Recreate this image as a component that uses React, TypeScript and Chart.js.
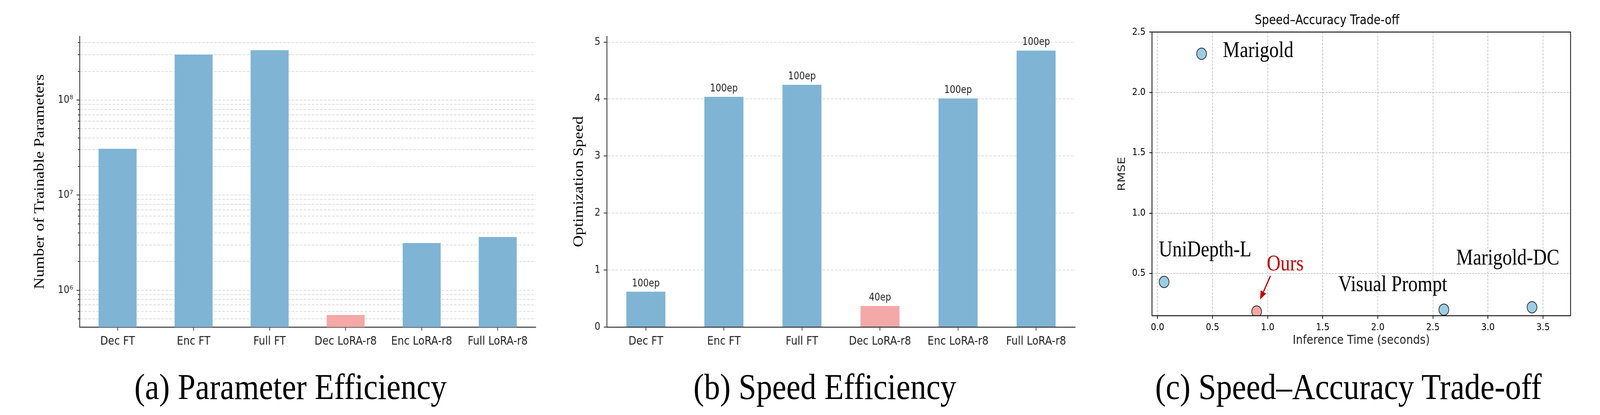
import React, { useEffect, useRef } from 'react';
import { Chart, registerables } from 'chart.js';

Chart.register(...registerables);

// ---------------- data ----------------
const methods = ['Dec FT', 'Enc FT', 'Full FT', 'Dec LoRA-r8', 'Enc LoRA-r8', 'Full LoRA-r8'];
const trainableParams = [3.07e7, 3.0e8, 3.34e8, 5.5e5, 3.13e6, 3.63e6];
const optimizationSpeed = [0.62, 4.04, 4.25, 0.37, 4.01, 4.85];
const epochLabels = ['100ep', '100ep', '100ep', '40ep', '100ep', '100ep'];
const highlightedMethod = 'Dec LoRA-r8';

const paramTicks = [
  5e5, 6e5, 7e5, 8e5, 9e5,
  1e6, 2e6, 3e6, 4e6, 5e6, 6e6, 7e6, 8e6, 9e6,
  1e7, 2e7, 3e7, 4e7, 5e7, 6e7, 7e7, 8e7, 9e7,
  1e8, 2e8, 3e8, 4e8,
];
const speedTicks = [0, 1, 2, 3, 4, 5];

const scatterMethods = ['Marigold', 'UniDepth-L', 'Ours', 'Visual Prompt', 'Marigold-DC'];
const inferenceTime = [0.4, 0.06, 0.9, 2.6, 3.4];
const rmseValues = [2.32, 0.43, 0.185, 0.2, 0.22];
const timeTicks = [0, 0.5, 1.0, 1.5, 2.0, 2.5, 3.0, 3.5];
const rmseTicks = [0.5, 1.0, 1.5, 2.0, 2.5];
const oursName = 'Ours';

const captions = ['(a) Parameter Efficiency', '(b) Speed Efficiency', '(c) Speed\u2013Accuracy Trade-off'];

// ---------------- styles ----------------
const PAGE_W = 4725;
const PAGE_H = 1062;
const BAR_BLUE = '#7fb4d4';
const BAR_PINK = '#f4a8a7';
const PT_BLUE = '#9dcde6';
const PT_PINK = '#f4a6a6';
const RED = '#c00000';
const SANS = "'DejaVu Sans', sans-serif";
const SERIF = "'Liberation Serif', 'Times New Roman', serif";
const SUP = '\u2070\u00b9\u00b2\u00b3\u2074\u2075\u2076\u2077\u2078\u2079';

const isPow10 = (v: number) => {
  const e = Math.log10(v);
  return Math.abs(e - Math.round(e)) < 1e-9;
};
const powLabel = (v: number) => {
  const e = Math.round(Math.log10(v));
  return '10' + String(e).split('').map((d) => SUP[Number(d)]).join('');
};

const barLabelPlugin = {
  id: 'barLabels',
  afterDatasetsDraw(chart: any, _args: any, opts: any) {
    const meta = chart.getDatasetMeta(0);
    const ctx = chart.ctx;
    ctx.save();
    ctx.font = `26px ${SANS}`;
    ctx.fillStyle = '#222';
    ctx.textAlign = 'center';
    ctx.textBaseline = 'alphabetic';
    meta.data.forEach((bar: any, i: number) => {
      ctx.fillText(opts.labels[i], bar.x, bar.y - 14);
    });
    ctx.restore();
  },
};

const boxPlugin = {
  id: 'boxSpines',
  afterDatasetsDraw(chart: any) {
    const { ctx, chartArea } = chart;
    ctx.save();
    ctx.strokeStyle = '#000';
    ctx.lineWidth = 2.2;
    ctx.strokeRect(chartArea.left, chartArea.top, chartArea.right - chartArea.left, chartArea.bottom - chartArea.top);
    ctx.restore();
  },
};

const scatterLabelPlugin = {
  id: 'scatterLabels',
  afterDatasetsDraw(chart: any, _args: any, opts: any) {
    const meta = chart.getDatasetMeta(0);
    const ctx = chart.ctx;
    ctx.save();
    ctx.font = `56px ${SERIF}`;
    ctx.textAlign = 'left';
    ctx.textBaseline = 'alphabetic';
    meta.data.forEach((pt: any, i: number) => {
      const name = scatterMethods[i];
      const off = opts.offsets[name];
      ctx.fillStyle = name === oursName ? RED : '#000';
      ctx.fillText(name, pt.x + off[0], pt.y + off[1]);
    });
    const idx = scatterMethods.indexOf(oursName);
    const p = meta.data[idx];
    const a = opts.arrow;
    const x1 = p.x + a.from[0], y1 = p.y + a.from[1];
    const x2 = p.x + a.to[0], y2 = p.y + a.to[1];
    const ang = Math.atan2(y2 - y1, x2 - x1);
    const hl = 22, hw = 9;
    const bx = x2 - hl * Math.cos(ang), by = y2 - hl * Math.sin(ang);
    ctx.strokeStyle = RED;
    ctx.fillStyle = RED;
    ctx.lineWidth = 3.5;
    ctx.beginPath();
    ctx.moveTo(x1, y1);
    ctx.lineTo(bx, by);
    ctx.stroke();
    ctx.beginPath();
    ctx.moveTo(x2, y2);
    ctx.lineTo(bx + hw * Math.sin(ang), by - hw * Math.cos(ang));
    ctx.lineTo(bx - hw * Math.sin(ang), by + hw * Math.cos(ang));
    ctx.closePath();
    ctx.fill();
    ctx.restore();
  },
};

const barXAxis = (height: number) => ({
  type: 'category',
  offset: true,
  afterFit: (s: any) => { s.height = height; },
  grid: {
    display: true,
    offset: false,
    drawOnChartArea: false,
    drawTicks: true,
    tickLength: 9,
    tickWidth: 2,
    tickColor: '#333',
  },
  border: { display: true, color: '#333', width: 2.5 },
  ticks: { font: { family: SANS, size: 30 }, color: '#222', padding: 10, maxRotation: 0, autoSkip: false },
});

export default function App() {
  const refA = useRef<HTMLCanvasElement>(null);
  const refB = useRef<HTMLCanvasElement>(null);
  const refC = useRef<HTMLCanvasElement>(null);

  // The viewport may be narrower than the requested window; fit the figure to it.
  const vw = typeof window !== 'undefined' && window.innerWidth ? window.innerWidth : PAGE_W;
  const vh = typeof window !== 'undefined' && window.innerHeight ? window.innerHeight : PAGE_H;
  const sx = Math.min(1, vw / PAGE_W);
  const sy = Math.min(1, vh / PAGE_H);

  useEffect(() => {
    const barColors = methods.map((m) => (m === highlightedMethod ? BAR_PINK : BAR_BLUE));

    const chartA = new Chart(refA.current as HTMLCanvasElement, {
      type: 'bar',
      data: {
        labels: methods,
        datasets: [{ data: trainableParams, backgroundColor: barColors, borderWidth: 0, barPercentage: 0.5, categoryPercentage: 1.0 }],
      },
      options: {
        responsive: false,
        animation: false,
        layout: { padding: { left: 0, top: 93, right: 18, bottom: 0 } },
        plugins: { legend: { display: false }, tooltip: { enabled: false } },
        scales: {
          x: barXAxis(63) as any,
          y: {
            type: 'logarithmic',
            min: 4.1e5,
            max: 4.67e8,
            afterFit: (s: any) => { s.width = 235; },
            afterBuildTicks: (s: any) => { s.ticks = paramTicks.map((v) => ({ value: v, major: isPow10(v) })); },
            grid: {
              color: '#dcdcdc',
              lineWidth: 2,
              tickLength: 9,
              tickWidth: 2.2,
              tickColor: '#333',
              tickBorderDash: (c: any) => (c.tick && isPow10(c.tick.value) ? [] : [0, 4, 5]),
            },
            border: { display: true, color: '#333', width: 2.5, dash: [8, 4] },
            ticks: {
              autoSkip: false,
              font: { family: SANS, size: 27 },
              color: '#222',
              padding: 10,
              callback: (v: any) => (isPow10(Number(v)) ? powLabel(Number(v)) : ''),
            },
            title: {
              display: true,
              text: 'Number of Trainable Parameters',
              font: { family: SERIF, size: 42 },
              color: '#000',
              padding: { top: 93, bottom: 0 },
            },
          } as any,
        },
      },
    });

    const chartB = new Chart(refB.current as HTMLCanvasElement, {
      type: 'bar',
      data: {
        labels: methods,
        datasets: [{ data: optimizationSpeed, backgroundColor: barColors, borderWidth: 0, barPercentage: 0.5, categoryPercentage: 1.0 }],
      },
      options: {
        responsive: false,
        animation: false,
        layout: { padding: { left: 0, top: 93, right: 25, bottom: 0 } },
        plugins: { legend: { display: false }, tooltip: { enabled: false }, barLabels: { labels: epochLabels } } as any,
        scales: {
          x: barXAxis(63) as any,
          y: {
            type: 'linear',
            min: 0,
            max: 5.1,
            afterFit: (s: any) => { s.width = 192; },
            afterBuildTicks: (s: any) => { s.ticks = speedTicks.map((v) => ({ value: v })); },
            grid: {
              color: (c: any) => (c.tick && c.tick.value === 0 ? 'rgba(0,0,0,0)' : '#dcdcdc'),
              lineWidth: 2,
              tickLength: 9,
              tickWidth: 2.2,
              tickColor: '#333',
            },
            border: { display: true, color: '#333', width: 2.5, dash: [8, 4] },
            ticks: { font: { family: SANS, size: 27 }, color: '#222', padding: 10, callback: (v: any) => String(v) },
            title: {
              display: true,
              text: 'Optimization Speed',
              font: { family: SERIF, size: 42 },
              color: '#000',
              padding: { top: 85, bottom: 0 },
            },
          } as any,
        },
      },
      plugins: [barLabelPlugin],
    });

    const chartC = new Chart(refC.current as HTMLCanvasElement, {
      type: 'scatter',
      data: {
        datasets: [
          {
            data: inferenceTime.map((t, i) => ({ x: t, y: rmseValues[i] })),
            pointRadius: 14.5,
            pointBackgroundColor: scatterMethods.map((m) => (m === oursName ? PT_PINK : PT_BLUE)),
            pointBorderColor: '#222',
            pointBorderWidth: 2,
            clip: 0,
          } as any,
        ],
      },
      options: {
        responsive: false,
        animation: false,
        layout: { padding: { left: 0, top: 0, right: 87, bottom: 0 } },
        plugins: {
          legend: { display: false },
          tooltip: { enabled: false },
          title: {
            display: true,
            text: 'Speed\u2013Accuracy Trade-off',
            font: { family: SANS, size: 33, weight: 'normal' },
            color: '#000',
            padding: { top: 34, bottom: 8.4 },
          },
          scatterLabels: {
            offsets: {
              'Marigold': [63, 8.5],
              'UniDepth-L': [-16, -65],
              'Ours': [30, -105],
              'Visual Prompt': [-312, -48],
              'Marigold-DC': [-224, -109],
            },
            arrow: { from: [41, -91.5], to: [10, -30.5] },
          },
        } as any,
        scales: {
          x: {
            type: 'linear',
            min: -0.05,
            max: 3.75,
            afterFit: (s: any) => { s.height = 92; },
            afterBuildTicks: (s: any) => { s.ticks = timeTicks.map((v) => ({ value: v })); },
            grid: { color: '#b4b4b4', lineWidth: 1.6, tickLength: 8, tickWidth: 2, tickColor: '#000' },
            border: { display: false, dash: [6, 3] },
            ticks: { font: { family: SANS, size: 25 }, color: '#000', padding: 7, callback: (v: any) => Number(v).toFixed(1) },
            title: {
              display: true,
              text: 'Inference Time (seconds)',
              font: { family: SANS, size: 32 },
              color: '#222',
              padding: { top: 0, bottom: 9 },
            },
          } as any,
          y: {
            type: 'linear',
            min: 0.15,
            max: 2.5,
            afterFit: (s: any) => { s.width = 202; },
            afterBuildTicks: (s: any) => { s.ticks = rmseTicks.map((v) => ({ value: v })); },
            grid: { color: '#b4b4b4', lineWidth: 1.6, tickLength: 8, tickWidth: 2, tickColor: '#000' },
            border: { display: false, dash: [6, 3] },
            ticks: { font: { family: SANS, size: 25 }, color: '#000', padding: 11, callback: (v: any) => Number(v).toFixed(1) },
            title: {
              display: true,
              text: 'RMSE',
              font: { family: SANS, size: 31 },
              color: '#222',
              padding: { top: 95, bottom: 0 },
            },
          } as any,
        },
      },
      plugins: [boxPlugin, scatterLabelPlugin],
    });

    return () => {
      chartA.destroy();
      chartB.destroy();
      chartC.destroy();
    };
  }, []);

  const captionCenters = [858, 2436, 3982];

  return (
    <div style={{ position: 'absolute', left: 0, top: 0, width: PAGE_W, height: PAGE_H, background: '#fff', overflow: 'hidden', transform: `scale(${sx}, ${sy})`, transformOrigin: '0 0' }}>
      <canvas ref={refA} width={1600} height={900} style={{ position: 'absolute', left: 0, top: 0, width: 1600, height: 900 }} />
      <canvas ref={refB} width={1600} height={900} style={{ position: 'absolute', left: 1600, top: 0, width: 1600, height: 900 }} />
      <canvas ref={refC} width={1525} height={900} style={{ position: 'absolute', left: 3200, top: 0, width: 1525, height: 900 }} />
      {captions.map((c, i) => (
        <div
          key={c}
          style={{
            position: 'absolute',
            left: captionCenters[i] - 800,
            width: 1600,
            top: 942,
            textAlign: 'center',
            fontFamily: SERIF,
            fontSize: 94,
            lineHeight: '94px',
            color: '#000',
            whiteSpace: 'nowrap',
          }}
        >
          {c}
        </div>
      ))}
    </div>
  );
}
